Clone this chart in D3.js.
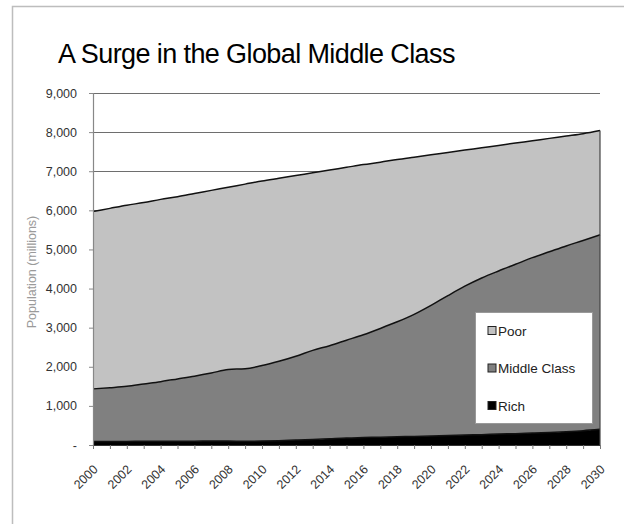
<!DOCTYPE html>
<html>
<head>
<meta charset="utf-8">
<script src="https://cdn.jsdelivr.net/npm/d3@7"></script>
<style>
  html, body { margin: 0; background: #fff; overflow: hidden; }
  svg { display: block; font-family: "Liberation Sans", Arial, sans-serif; }
</style>
</head>
<body>
<div class="chart"></div>
<script>
const years = d3.range(2000, 2031);

// millions of people
const rich = [90, 90, 92, 94, 95, 97, 98, 100, 100, 95, 100, 110, 125, 140, 160, 180,
              190, 200, 210, 220, 230, 240, 255, 265, 280, 290, 305, 320, 340, 365, 400];
const middle = [1345, 1375, 1408, 1466, 1525, 1593, 1662, 1740, 1830, 1855, 1930, 2030, 2145, 2280, 2380, 2500,
                2630, 2780, 2940, 3120, 3340, 3580, 3805, 4005, 4170, 4330, 4485, 4620, 4750, 4865, 4975];
const poor = [4535, 4585, 4630, 4640, 4660, 4660, 4670, 4670, 4660, 4720, 4720, 4680, 4620, 4540, 4490, 4420,
              4350, 4250, 4150, 4020, 3850, 3660, 3480, 3330, 3210, 3100, 2990, 2900, 2810, 2730, 2665];

const series_names = ["Rich", "Middle Class", "Poor"];
const legend_order = ["Poor", "Middle Class", "Rich"];
const y_ticks = [0, 1000, 2000, 3000, 4000, 5000, 6000, 7000, 8000, 9000];
const colors = { "Rich": "#000000", "Middle Class": "#808080", "Poor": "#c2c2c2" };

const W = 624, H = 524;
const margin = { top: 93, left: 93, right: 24, bottom: 79 };

const svg = d3.select(".chart").append("svg")
    .attr("width", W)
    .attr("height", H);

// outer frame: only the top and left edges fall inside the picture
svg.append("path")
    .attr("d", "M12.5," + H + "V6.5H" + W)
    .attr("fill", "none")
    .attr("stroke", "#bdbdbd")
    .attr("stroke-width", 1.5);

svg.append("text")
    .attr("x", 58)
    .attr("y", 63)
    .attr("font-size", 27)
    .attr("letter-spacing", -0.6)
    .attr("fill", "#000")
    .text("A Surge in the Global Middle Class");

const x = d3.scaleLinear()
    .domain([2000, 2030])
    .range([margin.left, W - margin.right]);

const y = d3.scaleLinear()
    .domain([0, 9000])
    .range([H - margin.bottom, margin.top]);

const table = years.map(function(yr, i) {
    return { year: yr, "Rich": rich[i], "Middle Class": middle[i], "Poor": poor[i] };
});

const stack = d3.stack().keys(series_names)(table);

// gridlines
svg.append("g")
    .selectAll("line")
    .data(y_ticks.filter(function(d) { return d > 0; }))
    .enter()
    .append("line")
    .attr("x1", x(2000)).attr("x2", x(2030))
    .attr("y1", function(d) { return Math.round(y(d)) + 0.5; })
    .attr("y2", function(d) { return Math.round(y(d)) + 0.5; })
    .attr("stroke", "#6e6e6e")
    .attr("stroke-width", 1.2);

const area = d3.area()
    .x(function(d) { return x(d.data.year); })
    .y0(function(d) { return y(d[0]); })
    .y1(function(d) { return y(d[1]); })
    .curve(d3.curveMonotoneX);

svg.append("g")
    .selectAll("path")
    .data(stack)
    .enter()
    .append("path")
    .attr("d", area)
    .attr("fill", function(d) { return colors[d.key]; });

// outline on top of each layer
const top_line = d3.line()
    .x(function(d) { return x(d.data.year); })
    .y(function(d) { return y(d[1]); })
    .curve(d3.curveMonotoneX);

svg.append("g")
    .selectAll("path")
    .data(stack)
    .enter()
    .append("path")
    .attr("d", top_line)
    .attr("fill", "none")
    .attr("stroke", "#111")
    .attr("stroke-width", 1.5);

// right edge of the areas
svg.append("line")
    .attr("x1", x(2030)).attr("x2", x(2030))
    .attr("y1", y(0)).attr("y2", y(stack[2][30][1]))
    .attr("stroke", "#444")
    .attr("stroke-width", 1.2);

// y axis
const y_axis = svg.append("g")
    .attr("transform", "translate(" + x(2000) + ",0)")
    .call(d3.axisLeft(y)
        .tickValues(y_ticks)
        .tickSize(4)
        .tickPadding(12)
        .tickFormat(function(d) { return d === 0 ? "-" : d3.format(",")(d); }));

y_axis.select(".domain").attr("stroke", "#888").attr("stroke-width", 1.2);
y_axis.selectAll(".tick line").attr("stroke", "#888");
y_axis.selectAll("text")
    .attr("font-size", 12.5)
    .attr("fill", "#333")
    .attr("font-family", "Liberation Sans, Arial, sans-serif");

// x axis
const x_axis = svg.append("g")
    .attr("transform", "translate(0," + y(0) + ")")
    .call(d3.axisBottom(x)
        .tickValues(years)
        .tickSize(4)
        .tickSizeOuter(0)
        .tickFormat(function(d) { return d % 2 === 0 ? d : ""; }));

x_axis.select(".domain").attr("stroke", "#333").attr("stroke-width", 1.2);
x_axis.selectAll(".tick line").attr("stroke", "#777");
x_axis.selectAll("text")
    .attr("x", 0)
    .attr("y", 0)
    .attr("font-size", 12.5)
    .attr("fill", "#333")
    .attr("font-family", "Liberation Sans, Arial, sans-serif")
    .attr("text-anchor", "end")
    .attr("dy", "0.35em")
    .attr("transform", "translate(2,22) rotate(-45)");

// y axis title
svg.append("text")
    .attr("transform", "translate(36,272) rotate(-90)")
    .attr("text-anchor", "middle")
    .attr("font-size", 12.5)
    .attr("fill", "#9a9a9a")
    .text("Population (millions)");

// legend
const legend = svg.append("g")
    .attr("transform", "translate(475,312)");

legend.append("rect")
    .attr("x", 0.5).attr("y", 0.5)
    .attr("width", 117).attr("height", 111)
    .attr("fill", "#fff")
    .attr("stroke", "#999");

const items = legend.selectAll("g.item")
    .data(legend_order)
    .enter()
    .append("g")
    .attr("class", "item")
    .attr("transform", function(d, i) { return "translate(13," + (19 + i * 37.5) + ")"; });

items.append("rect")
    .attr("x", 0).attr("y", -4.5)
    .attr("width", 8).attr("height", 8)
    .attr("fill", function(d) { return colors[d]; })
    .attr("stroke", "#222")
    .attr("stroke-width", 1);

items.append("text")
    .attr("x", 10)
    .attr("dy", "0.35em")
    .attr("font-size", 13.5)
    .attr("fill", "#222")
    .text(function(d) { return d; });
</script>
</body>
</html>
